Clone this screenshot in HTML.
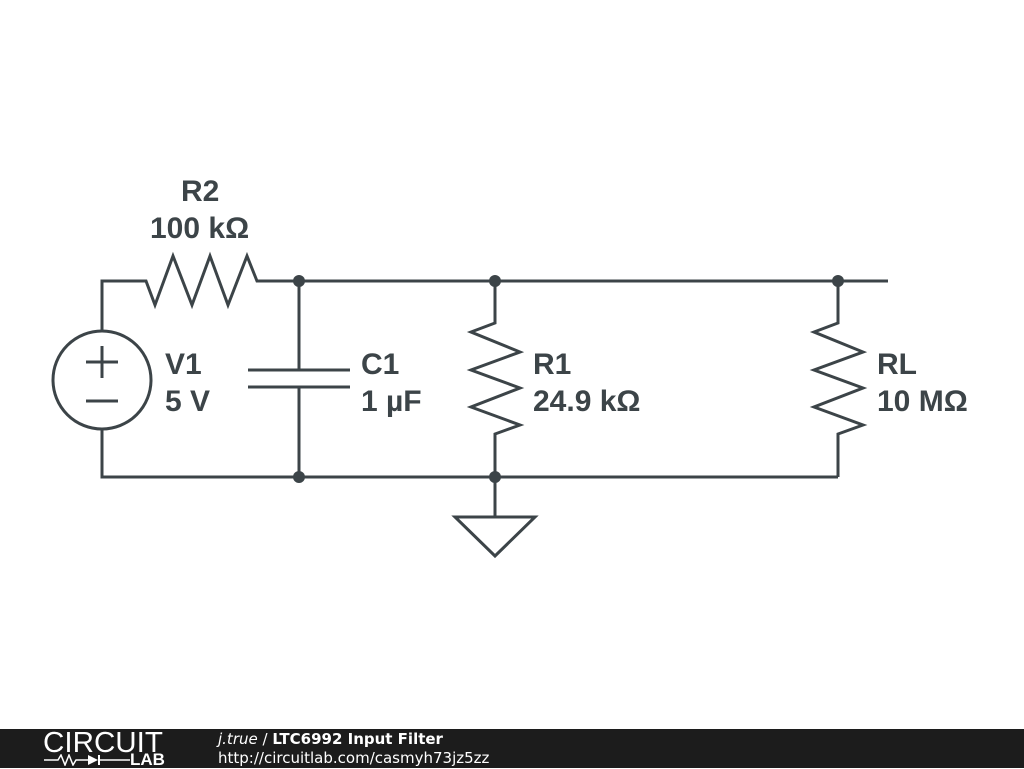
<!DOCTYPE html>
<html><head><style>
body{margin:0;width:1024px;height:768px;background:#fff;overflow:hidden;position:relative;font-family:"Liberation Sans",sans-serif}
.t{position:absolute;font-weight:bold;font-size:30px;color:#3c4448;line-height:36px}
.bar{position:absolute;left:0;top:729px;width:1024px;height:39px;background:#1c1c1c}
</style></head><body>
<svg width="1024" height="768" style="position:absolute;left:0;top:0">
<g stroke="#3c4448" stroke-width="3" fill="none" stroke-linejoin="miter">
<polyline points="102,331 102,281 146,281 155,305 173,256 192,305 210,256 228,305 247,256 257,281 888,281"/>
<circle cx="102" cy="380" r="49"/>
<line x1="86" y1="362" x2="118" y2="362"/><line x1="102" y1="346" x2="102" y2="378"/>
<line x1="86" y1="401" x2="118" y2="401"/>
<polyline points="102,429 102,477 838,477"/>
<line x1="299" y1="281" x2="299" y2="370"/><line x1="299" y1="387" x2="299" y2="477"/>
<line x1="248" y1="370" x2="350" y2="370"/><line x1="248" y1="387" x2="350" y2="387"/>
<polyline points="495,281 495,323 471,332 520,352 471,370 520,388 471,407 520,425 495,434 495,477"/>
<polyline points="838,281 838,323 814,332 863,352 814,370 863,388 814,407 863,425 838,434 838,477"/>
<line x1="495" y1="477" x2="495" y2="517"/>
<polygon points="455,517 535,517 495,556"/>
</g>
<g fill="#3c4448"><circle cx="299" cy="281" r="6"/><circle cx="495" cy="281" r="6"/><circle cx="838" cy="281" r="6"/><circle cx="299" cy="477" r="6"/><circle cx="495" cy="477" r="6"/></g>
</svg>
<div class="t" style="left:181px;top:174px">R2</div>
<div class="t" style="left:150px;top:211px">100 kΩ</div>
<div class="t" style="left:165px;top:347px">V1</div>
<div class="t" style="left:165px;top:384px">5 V</div>
<div class="t" style="left:361px;top:347px">C1</div>
<div class="t" style="left:361px;top:384px">1 µF</div>
<div class="t" style="left:533px;top:347px">R1</div>
<div class="t" style="left:533px;top:384px">24.9 kΩ</div>
<div class="t" style="left:877px;top:347px">RL</div>
<div class="t" style="left:877px;top:384px">10 MΩ</div>
<div class="bar"></div>
<div style="position:absolute;left:43px;top:728px;color:#fff;font-size:29px;letter-spacing:0px;line-height:30px;transform:scaleX(1.02);transform-origin:left">CIRCUIT</div>
<div style="position:absolute;left:130px;top:751px;color:#fff;font-size:17px;font-weight:bold;line-height:17px">LAB</div>
<svg width="90" height="12" style="position:absolute;left:44px;top:754px"><polyline points="0,6 14,6 17,1 21,11 25,1 29,11 32,6 44,6" stroke="#fff" stroke-width="1.5" fill="none"/><polygon points="44,1 44,11 54,6" fill="#fff"/><line x1="55" y1="1" x2="55" y2="11" stroke="#fff" stroke-width="2"/><line x1="54" y1="6" x2="86" y2="6" stroke="#fff" stroke-width="1.5"/></svg>
<div style="position:absolute;left:218px;top:730px;color:#fff;font-size:15px;line-height:18px;font-family:'DejaVu Sans',sans-serif"><i>j.true</i> / <b>LTC6992 Input Filter</b></div>
<div style="position:absolute;left:218px;top:749px;color:#fff;font-size:15px;line-height:18px;font-family:'DejaVu Sans',sans-serif">http://circuitlab.com/casmyh73jz5zz</div>
</body></html>
